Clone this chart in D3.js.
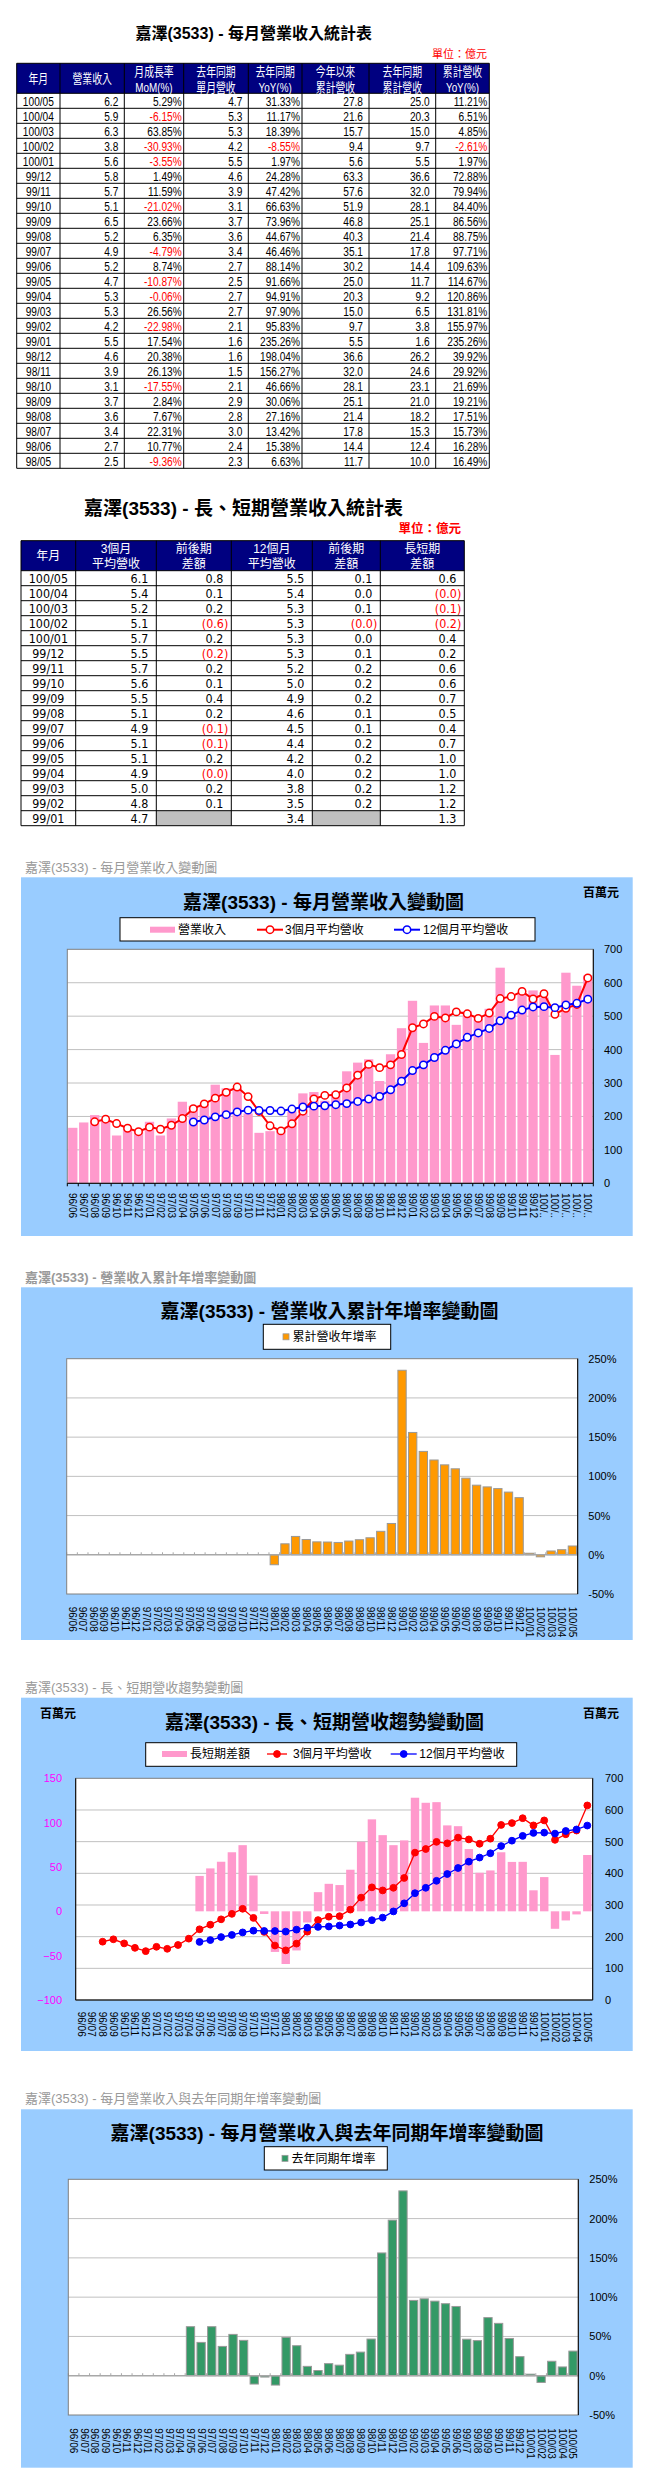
<!DOCTYPE html>
<html>
<head>
<meta charset="utf-8">
<script src="https://cdn.jsdelivr.net/npm/d3@7"></script>
<style>
  body { margin: 0; background: #fff; }
  svg { display: block; }
</style>
</head>
<body>
<div id="chart"></div>
<script>
// ---------- data ----------
var months = ["96/06","96/07","96/08","96/09","96/10","96/11","96/12",
  "97/01","97/02","97/03","97/04","97/05","97/06","97/07","97/08","97/09","97/10","97/11","97/12",
  "98/01","98/02","98/03","98/04","98/05","98/06","98/07","98/08","98/09","98/10","98/11","98/12",
  "99/01","99/02","99/03","99/04","99/05","99/06","99/07","99/08","99/09","99/10","99/11","99/12",
  "100/01","100/02","100/03","100/04","100/05"];

// monthly revenue, million NTD
var revenue = [166,182,204,189,143,162,158,
  184,143,194,244,232,237,295,284,285,209,151,156,
  163,215,269,273,247,274,335,361,371,306,386,464,
  546,420,532,532,474,515,491,522,645,509,568,577,
  556,384,630,591,622];

var ma3 = [null,null,184.0,191.7,178.7,164.7,154.3,
  168.0,161.7,173.7,193.7,223.3,237.7,254.7,272.0,288.0,259.3,215.0,172.0,
  156.7,178.0,215.7,252.3,263.0,264.7,285.3,323.3,355.7,346.0,354.3,385.3,
  465.3,476.7,499.3,494.7,512.7,507.0,493.3,509.3,552.7,558.7,574.0,551.3,
  567.0,505.7,523.3,535.0,614.3];

var ma12 = [null,null,null,null,null,null,null,
  null,null,null,null,183.4,189.3,198.8,205.4,213.4,218.9,218.0,217.8,
  216.1,222.1,228.3,230.8,232.0,235.1,238.4,244.8,252.0,260.1,279.7,305.3,
  337.3,354.3,376.3,397.8,416.8,436.8,449.8,463.3,486.1,503.0,518.2,527.6,
  528.4,525.4,533.6,538.5,550.8];

var spread = [null,null,null,null,null,null,null,
  null,null,null,null,39.9,48.4,55.9,66.6,74.6,40.4,-3.0,-45.8,
  -59.4,-44.1,-12.6,21.6,31.0,29.6,46.9,78.5,103.7,85.9,74.6,80.0,
  128.1,122.4,123.1,96.9,96.0,70.2,43.5,46.1,66.6,55.7,55.8,23.7,
  38.6,-19.7,-10.3,-3.5,63.5];

var cumYoY = [null,null,null,null,null,null,null,
  null,null,null,null,null,null,null,null,null,null,null,null,
  -12.7,14.0,23.4,19.5,16.49,16.28,15.73,17.51,19.21,21.69,29.92,39.92,
  235.26,155.97,131.81,120.86,114.67,109.63,97.71,88.75,86.56,84.40,79.94,72.88,
  1.97,-2.61,4.85,6.51,11.21];

var monthYoY = [null,null,null,null,null,null,null,
  null,null,null,null,62.4,42.4,62.4,37.3,52.6,45.0,-10.6,-1.7,
  -11.9,48.8,38.2,11.9,6.63,15.38,13.42,27.16,30.06,46.66,156.27,198.04,
  235.26,95.83,97.90,94.91,91.66,88.14,46.46,44.67,73.96,66.63,47.42,24.28,
  1.97,-8.55,18.39,11.17,31.33];

// table 1 (100/05 down to 98/05), 億元 / %
var t1Rev = [6.2,5.9,6.3,3.8,5.6,5.8,5.7,5.1,6.5,5.2,4.9,5.2,4.7,5.3,5.3,4.2,5.5,4.6,3.9,3.1,3.7,3.6,3.4,2.7,2.5];
var t1MoM = [5.29,-6.15,63.85,-30.93,-3.55,1.49,11.59,-21.02,23.66,6.35,-4.79,8.74,-10.87,-0.06,26.56,-22.98,17.54,20.38,26.13,-17.55,2.84,7.67,22.31,10.77,-9.36];
var t1LastRev = [4.7,5.3,5.3,4.2,5.5,4.6,3.9,3.1,3.7,3.6,3.4,2.7,2.5,2.7,2.7,2.1,1.6,1.6,1.5,2.1,2.9,2.8,3.0,2.4,2.3];
var t1YoY = [31.33,11.17,18.39,-8.55,1.97,24.28,47.42,66.63,73.96,44.67,46.46,88.14,91.66,94.91,97.90,95.83,235.26,198.04,156.27,46.66,30.06,27.16,13.42,15.38,6.63];
var t1Cum = [27.8,21.6,15.7,9.4,5.6,63.3,57.6,51.9,46.8,40.3,35.1,30.2,25.0,20.3,15.0,9.7,5.5,36.6,32.0,28.1,25.1,21.4,17.8,14.4,11.7];
var t1LastCum = [25.0,20.3,15.0,9.7,5.5,36.6,32.0,28.1,25.1,21.4,17.8,14.4,11.7,9.2,6.5,3.8,1.6,26.2,24.6,23.1,21.0,18.2,15.3,12.4,10.0];
var t1CumYoY = [11.21,6.51,4.85,-2.61,1.97,72.88,79.94,84.40,86.56,88.75,97.71,109.63,114.67,120.86,131.81,155.97,235.26,39.92,29.92,21.69,19.21,17.51,15.73,16.28,16.49];

// table 2 (100/05 down to 99/01), 億元
var t2Ma3 = [6.1,5.4,5.2,5.1,5.7,5.5,5.7,5.6,5.5,5.1,4.9,5.1,5.1,4.9,5.0,4.8,4.7];
var t2Ma3Chg = [0.8,0.1,0.2,-0.6,0.2,-0.2,0.2,0.1,0.4,0.2,-0.1,-0.1,0.2,-0.04,0.2,0.1,null];
var t2Ma12 = [5.5,5.4,5.3,5.3,5.3,5.3,5.2,5.0,4.9,4.6,4.5,4.4,4.2,4.0,3.8,3.5,3.4];
var t2Ma12Chg = [0.1,0.0,0.1,-0.03,0.0,0.1,0.2,0.2,0.2,0.1,0.1,0.2,0.2,0.2,0.2,0.2,null];
var t2Spread = [0.6,-0.04,-0.1,-0.2,0.4,0.2,0.6,0.6,0.7,0.5,0.4,0.7,1.0,1.0,1.2,1.2,1.3];

var t1Months = months.slice(23).reverse();
var t2Months = months.slice(31).reverse();

// ---------- setup ----------
var LAT = "'Liberation Sans','Noto Sans CJK TC',sans-serif";
var VER = "'DejaVu Sans','Noto Sans CJK TC',sans-serif";
var PANEL = "#99ccff", PINK = "#ff99cc", GRID = "#c0c0c0";

var svg = d3.select("#chart").append("svg")
    .attr("width", 658)
    .attr("height", 2491);

function put(g, x, y, str, anchor, sx, size, fill, font, weight) {
  return g.append("text")
    .attr("transform", "translate(" + x + "," + y + ") scale(" + sx + ",1)")
    .attr("text-anchor", anchor)
    .attr("dy", "0.35em")
    .attr("font-size", size)
    .attr("font-family", font)
    .attr("font-weight", weight || "normal")
    .attr("fill", fill)
    .text(str);
}

var f1 = function(v) { return v.toFixed(1); };
var pct = function(v) { return v.toFixed(2) + "%"; };
var acc = function(v) { return v < 0 ? "(" + (-v).toFixed(1) + ")" : v.toFixed(1); };
var isNeg = function(v) { return v < 0; };

function drawTable(cfg) {
  var g = svg.append("g");
  var xs = cfg.edges, n = cfg.cols[0].values.length;
  var y0 = cfg.top, yb = cfg.top + cfg.headH;
  var rowY = function(i) { return yb + i * cfg.rowH; };
  var bottom = rowY(n);

  g.append("rect")
    .attr("x", xs[0]).attr("y", y0)
    .attr("width", xs[xs.length - 1] - xs[0]).attr("height", cfg.headH)
    .attr("fill", "#000080");

  cfg.cols.forEach(function(c, ci) {
    c.values.forEach(function(v, ri) {
      if (v == null) {
        g.append("rect").attr("x", xs[ci]).attr("y", rowY(ri))
          .attr("width", xs[ci + 1] - xs[ci]).attr("height", cfg.rowH)
          .attr("fill", "#c0c0c0");
      }
    });
  });

  g.append("g").selectAll("line").data(d3.range(-1, n + 1)).join("line")
    .attr("x1", xs[0]).attr("x2", xs[xs.length - 1])
    .attr("y1", function(i) { return i < 0 ? y0 : rowY(i); })
    .attr("y2", function(i) { return i < 0 ? y0 : rowY(i); })
    .attr("stroke", "#000");
  g.append("g").selectAll("line").data(xs).join("line")
    .attr("x1", function(d) { return d; }).attr("x2", function(d) { return d; })
    .attr("y1", y0).attr("y2", bottom)
    .attr("stroke", "#000");

  cfg.cols.forEach(function(c, ci) {
    var cx = (xs[ci] + xs[ci + 1]) / 2;
    c.head.forEach(function(t, li) {
      var cy = c.head.length === 1 ? (y0 + yb) / 2 : cfg.headLines[li];
      put(g, cx, cy, t, "middle", cfg.headSx, cfg.headSize, "#fff", cfg.headFont);
    });
    c.values.forEach(function(v, ri) {
      if (v == null) return;
      var cy = rowY(ri) + cfg.rowH / 2 + 0.5;
      if (c.align === "middle") {
        put(g, cx, cy, v, "middle", cfg.bodySx, cfg.bodySize, "#000", cfg.bodyFont);
      } else {
        var neg = c.neg ? c.neg(v) : false;
        var pad = neg && c.padNeg != null ? c.padNeg : c.pad;
        put(g, xs[ci + 1] - pad, cy, c.fmt(v), "end", cfg.bodySx, cfg.bodySize,
            neg ? "#ff0000" : "#000", cfg.bodyFont);
      }
    });
  });
}

// ---------- table 1 ----------
put(svg, 253.7, 33, "嘉澤(3533) - 每月營業收入統計表", "middle", 1, 16, "#000", LAT, "bold");
put(svg, 487, 54, "單位：億元", "end", 1, 11, "#ff0000", LAT);
drawTable({
  top: 63.3, headH: 30, rowH: 15, headLines: [71.7, 87.3],
  edges: [16.7, 60, 124.3, 183.7, 248.3, 302, 369, 435.7, 489.3],
  headSx: 0.76, headSize: 13, headFont: LAT,
  bodySx: 0.78, bodySize: 13, bodyFont: LAT,
  cols: [
    { head: ["年月"], values: t1Months, align: "middle" },
    { head: ["營業收入"], values: t1Rev, fmt: f1, pad: 6 },
    { head: ["月成長率", "MoM(%)"], values: t1MoM, fmt: pct, pad: 2, neg: isNeg },
    { head: ["去年同期", "單月營收"], values: t1LastRev, fmt: f1, pad: 6 },
    { head: ["去年同期", "YoY(%)"], values: t1YoY, fmt: pct, pad: 2, neg: isNeg },
    { head: ["今年以來", "累計營收"], values: t1Cum, fmt: f1, pad: 6 },
    { head: ["去年同期", "累計營收"], values: t1LastCum, fmt: f1, pad: 6 },
    { head: ["累計營收", "YoY(%)"], values: t1CumYoY, fmt: pct, pad: 2, neg: isNeg }
  ]
});

// ---------- table 2 ----------
put(svg, 243.5, 508, "嘉澤(3533) - 長、短期營業收入統計表", "middle", 1, 19, "#000", LAT, "bold");
put(svg, 461, 529, "單位：億元", "end", 1, 12.5, "#ff0000", LAT, "bold");
drawTable({
  top: 540.7, headH: 30, rowH: 15, headLines: [549, 563.3],
  edges: [21, 75.7, 156.3, 231.3, 312.3, 380.3, 464.3],
  headSx: 1, headSize: 12, headFont: LAT,
  bodySx: 0.93, bodySize: 12, bodyFont: VER,
  cols: [
    { head: ["年月"], values: t2Months, align: "middle" },
    { head: ["3個月", "平均營收"], values: t2Ma3, fmt: acc, pad: 8 },
    { head: ["前後期", "差額"], values: t2Ma3Chg, fmt: acc, pad: 8, padNeg: 3, neg: isNeg },
    { head: ["12個月", "平均營收"], values: t2Ma12, fmt: acc, pad: 8 },
    { head: ["前後期", "差額"], values: t2Ma12Chg, fmt: acc, pad: 8, padNeg: 3, neg: isNeg },
    { head: ["長短期", "差額"], values: t2Spread, fmt: acc, pad: 8, padNeg: 3, neg: isNeg }
  ]
});

// ---------- chart helpers ----------
function panel(x, y, w, h) {
  svg.append("rect").attr("x", x).attr("y", y).attr("width", w).attr("height", h).attr("fill", PANEL);
}
function caption(t, x, y, bold) {
  put(svg, x, y, t, "start", 1, 13, "#999", LAT, bold ? "bold" : "normal");
}
function chartTitle(t, cx, cy) {
  put(svg, cx, cy, t, "middle", 1, 19, "#000", LAT, "bold");
}
function unit(x, y) {
  put(svg, x, y, "百萬元", "start", 1, 12, "#000", LAT, "bold");
}
function plotBg(P) {
  svg.append("rect").attr("x", P.l).attr("y", P.t).attr("width", P.r - P.l).attr("height", P.b - P.t).attr("fill", "#fff");
}
function frame(P, black) {
  svg.append("rect").attr("x", P.l).attr("y", P.t).attr("width", P.r - P.l).attr("height", P.b - P.t)
    .attr("fill", "none").attr("stroke", "#808080");
  black.forEach(function(side) {
    var c = { l: [P.l, P.t, P.l, P.b], r: [P.r, P.t, P.r, P.b], b: [P.l, P.b, P.r, P.b] }[side];
    svg.append("line").attr("x1", c[0]).attr("y1", c[1]).attr("x2", c[2]).attr("y2", c[3]).attr("stroke", "#000");
  });
}
function grid(P, y, vals) {
  svg.append("g").selectAll("line").data(vals).join("line")
    .attr("x1", P.l).attr("x2", P.r)
    .attr("y1", function(d) { return y(d); }).attr("y2", function(d) { return y(d); })
    .attr("stroke", GRID);
}
function rightAxis(P, y, vals, fmt, gap) {
  var ax = svg.append("g").attr("transform", "translate(" + P.r + ",0)")
    .call(d3.axisRight(y).tickValues(vals).tickFormat(fmt).tickSize(0).tickSizeOuter(0).tickPadding(gap));
  ax.select(".domain").remove();
  ax.selectAll("text").attr("font-size", 11).attr("font-family", LAT).attr("fill", "#000");
}
function xLabels(x, top, fmt) {
  svg.append("g").selectAll("text").data(months).join("text")
    .attr("transform", function(d) { return "translate(" + (x(d) + x.bandwidth() / 2) + "," + top + ") rotate(90)"; })
    .attr("dy", "0.35em")
    .attr("font-size", 10)
    .attr("font-family", LAT)
    .text(fmt || function(d) { return d; });
}
function catTicks(P, x, yPos, len, color) {
  svg.append("g").selectAll("line").data(d3.range(months.length + 1)).join("line")
    .attr("x1", function(i) { return P.l + i * x.step(); })
    .attr("x2", function(i) { return P.l + i * x.step(); })
    .attr("y1", yPos).attr("y2", yPos + len)
    .attr("stroke", color);
}
function seriesLine(x, y, vals, color, width, r, hollow) {
  var pts = vals.map(function(v, i) { return { m: months[i], v: v }; })
    .filter(function(d) { return d.v != null; });
  var cx = function(d) { return x(d.m) + x.bandwidth() / 2; };
  svg.append("path").datum(pts)
    .attr("fill", "none").attr("stroke", color).attr("stroke-width", width)
    .attr("d", d3.line().x(cx).y(function(d) { return y(d.v); }));
  svg.append("g").selectAll("circle").data(pts).join("circle")
    .attr("cx", cx).attr("cy", function(d) { return y(d.v); }).attr("r", r)
    .attr("fill", hollow ? "#fff" : color)
    .attr("stroke", color).attr("stroke-width", hollow ? 1.5 : 1);
}
function legendBox(x, y, w, h) {
  svg.append("rect").attr("x", x).attr("y", y).attr("width", w).attr("height", h)
    .attr("fill", "#fff").attr("stroke", "#000");
}
function legendLine(x1, x2, y, color, width, r, hollow) {
  svg.append("line").attr("x1", x1).attr("x2", x2).attr("y1", y).attr("y2", y)
    .attr("stroke", color).attr("stroke-width", width);
  svg.append("circle").attr("cx", (x1 + x2) / 2).attr("cy", y).attr("r", r)
    .attr("fill", hollow ? "#fff" : color).attr("stroke", color).attr("stroke-width", hollow ? 1.5 : 1);
}
function legendText(t, x, y) {
  put(svg, x, y, t, "start", 1, 12, "#000", LAT);
}

// ---------- chart 1: monthly revenue ----------
(function() {
  var P = { l: 67.3, t: 949.3, r: 593.3, b: 1183.3 };
  caption("嘉澤(3533) - 每月營業收入變動圖", 25, 867);
  panel(21, 877.3, 611.7, 358.7);
  chartTitle("嘉澤(3533) - 每月營業收入變動圖", 323.5, 902);
  unit(583, 893);
  plotBg(P);
  var x = d3.scaleBand().domain(months).range([P.l, P.r]).paddingInner(0.15).paddingOuter(0.075);
  var y = d3.scaleLinear().domain([0, 700]).range([P.b, P.t]);
  grid(P, y, d3.range(100, 700, 100));
  svg.append("g").selectAll("rect").data(revenue).join("rect")
    .attr("x", function(d, i) { return x(months[i]); })
    .attr("width", x.bandwidth())
    .attr("y", function(d) { return y(d); })
    .attr("height", function(d) { return y(0) - y(d); })
    .attr("fill", PINK);
  seriesLine(x, y, ma3, "#ff0000", 2, 3.7, true);
  seriesLine(x, y, ma12, "#0000ff", 2, 3.7, true);
  frame(P, ["r", "b"]);
  catTicks(P, x, P.b, 3, "#000");
  rightAxis(P, y, d3.range(0, 701, 100), d3.format("d"), 10.7);
  xLabels(x, 1193, function(d) { return d.length > 5 ? d.slice(0, 4) + ".." : d; });
  legendBox(120, 917.7, 415, 23.3);
  svg.append("rect").attr("x", 150).attr("y", 926.7).attr("width", 25).attr("height", 6).attr("fill", PINK);
  legendText("營業收入", 178, 929.7);
  legendLine(257, 283, 929.7, "#ff0000", 2, 3.7, true);
  legendText("3個月平均營收", 285, 929.7);
  legendLine(394, 420, 929.7, "#0000ff", 2, 3.7, true);
  legendText("12個月平均營收", 423, 929.7);
})();

// ---------- chart 2: cumulative YoY ----------
function yoyChart(o) {
  var P = o.P;
  caption(o.caption, 25, o.capY, o.capBold);
  panel(21, o.panelTop, 611.7, o.panelBottom - o.panelTop);
  chartTitle(o.title, o.titleX, o.titleY);
  plotBg(P);
  var x = d3.scaleBand().domain(months).range([P.l, P.r]).paddingInner(0.22).paddingOuter(0.11);
  var y = d3.scaleLinear().domain([-50, 250]).range([P.b, P.t]);
  grid(P, y, [50, 100, 150, 200]);
  var pts = o.values.map(function(v, i) { return { m: months[i], v: v }; })
    .filter(function(d) { return d.v != null; });
  svg.append("g").selectAll("rect").data(pts).join("rect")
    .attr("x", function(d) { return x(d.m); })
    .attr("width", x.bandwidth())
    .attr("y", function(d) { return y(Math.max(0, d.v)); })
    .attr("height", function(d) { return Math.abs(y(d.v) - y(0)); })
    .attr("fill", o.color).attr("stroke", "#999").attr("stroke-width", 1);
  svg.append("line").attr("x1", P.l).attr("x2", P.r).attr("y1", y(0)).attr("y2", y(0))
    .attr("stroke", "#a8a8a8").attr("stroke-width", 1.5);
  catTicks(P, x, y(0) - 2.5, 2.5, "#a8a8a8");
  frame(P, ["r"]);
  rightAxis(P, y, d3.range(-50, 251, 50), function(d) { return d + "%"; }, o.labelX - P.r);
  xLabels(x, o.labelTop);
  legendBox(o.leg[0], o.leg[1], o.leg[2], o.leg[3]);
  var ly = o.leg[1] + o.leg[3] / 2;
  svg.append("rect").attr("x", o.swX).attr("y", ly - 3).attr("width", 6).attr("height", 6)
    .attr("fill", o.color).attr("stroke", "#999").attr("stroke-width", 0.8);
  legendText(o.legend, o.swX + 9.5, ly);
}

yoyChart({
  P: { l: 66.7, t: 1358.7, r: 577.7, b: 1594 },
  caption: "嘉澤(3533) -  營業收入累計年增率變動圖", capY: 1277, capBold: true,
  panelTop: 1287.3, panelBottom: 1640,
  title: "嘉澤(3533) -  營業收入累計年增率變動圖", titleX: 329.5, titleY: 1311.7,
  values: cumYoY, color: "#ff9900",
  labelX: 588.3, labelTop: 1606.7,
  leg: [263.3, 1324.3, 127.4, 25], swX: 283, legend: "累計營收年增率"
});

// ---------- chart 3: long/short-term trend ----------
(function() {
  var P = { l: 75.7, t: 1778.3, r: 592.7, b: 2000 };
  caption("嘉澤(3533) -  長、短期營收趨勢變動圖", 25, 1687);
  panel(21, 1697.7, 611.7, 353.3);
  chartTitle("嘉澤(3533) -  長、短期營收趨勢變動圖", 324.5, 1722.7);
  unit(40, 1714);
  unit(583, 1714);
  plotBg(P);
  var x = d3.scaleBand().domain(months).range([P.l, P.r]).paddingInner(0.22).paddingOuter(0.11);
  var yR = d3.scaleLinear().domain([0, 700]).range([P.b, P.t]);
  var yL = d3.scaleLinear().domain([-100, 150]).range([P.b, P.t]);
  grid(P, yR, d3.range(100, 700, 100));
  var pts = spread.map(function(v, i) { return { m: months[i], v: v }; })
    .filter(function(d) { return d.v != null; });
  svg.append("g").selectAll("rect").data(pts).join("rect")
    .attr("x", function(d) { return x(d.m); })
    .attr("width", x.bandwidth())
    .attr("y", function(d) { return yL(Math.max(0, d.v)); })
    .attr("height", function(d) { return Math.abs(yL(d.v) - yL(0)); })
    .attr("fill", PINK);
  seriesLine(x, yR, ma3, "#ff0000", 1.3, 3.4, false);
  seriesLine(x, yR, ma12, "#0000ff", 1.3, 3.4, false);
  frame(P, ["l", "r", "b"]);
  rightAxis(P, yR, d3.range(0, 701, 100), d3.format("d"), 12.3);
  var axL = svg.append("g").attr("transform", "translate(" + P.l + ",0)")
    .call(d3.axisLeft(yL).tickValues(d3.range(-100, 151, 50)).tickSize(0).tickPadding(13.7));
  axL.select(".domain").remove();
  axL.selectAll("text").attr("font-size", 11).attr("font-family", LAT).attr("fill", "#ff00ff");
  xLabels(x, 2011.7);
  legendBox(145.7, 1742.7, 371, 23.6);
  svg.append("rect").attr("x", 162).attr("y", 1751).attr("width", 25).attr("height", 6).attr("fill", PINK);
  legendText("長短期差額", 190, 1754);
  legendLine(267, 287, 1754, "#ff0000", 1.3, 3.4, false);
  legendText("3個月平均營收", 293, 1754);
  legendLine(390.7, 416.7, 1754, "#0000ff", 1.3, 3.4, false);
  legendText("12個月平均營收", 419.3, 1754);
})();

// ---------- chart 4: monthly YoY ----------
yoyChart({
  P: { l: 68.3, t: 2179.3, r: 578.3, b: 2415 },
  caption: "嘉澤(3533) -  每月營業收入與去年同期年增率變動圖", capY: 2098, capBold: false,
  panelTop: 2109.3, panelBottom: 2467.7,
  title: "嘉澤(3533) -  每月營業收入與去年同期年增率變動圖", titleX: 327, titleY: 2133.3,
  values: monthYoY, color: "#339966",
  labelX: 589.3, labelTop: 2428.3,
  leg: [264.3, 2146.7, 123, 23.3], swX: 282, legend: "去年同期年增率"
});
</script>
</body>
</html>
